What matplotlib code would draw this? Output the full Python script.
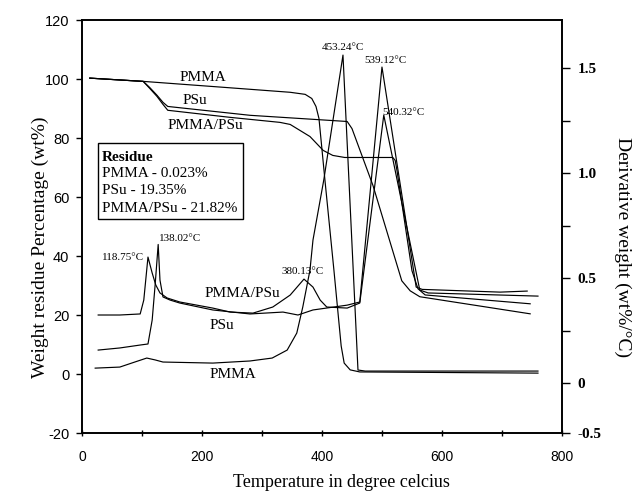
import matplotlib
matplotlib.use("Agg")
import matplotlib.pyplot as plt
from matplotlib.patches import Rectangle
from matplotlib.ticker import MultipleLocator, FixedLocator, FixedFormatter

plt.rcParams["axes.unicode_minus"] = False

# ---------------- data ----------------
# TG curves (left axis, weight residue %)
pmma_tg_T = [13, 102, 235, 347, 372, 383, 390, 395, 405, 420, 432, 437, 447, 463, 760]
pmma_tg_W = [100.3, 99.2, 97.2, 95.5, 94.8, 93.4, 90.7, 86.6, 65.6, 35.0, 9.5, 3.7, 1.4, 0.7, 0.3]

psu_tg_T = [13, 102, 113, 125, 135, 143, 280, 442, 450, 485, 533, 547, 563, 747]
psu_tg_W = [100.3, 99.2, 97.1, 94.5, 92.1, 90.7, 87.7, 85.6, 83.2, 63.9, 31.6, 28.2, 26.2, 20.4]

blend_tg_T = [13, 102, 113, 125, 135, 143, 247, 330, 347, 380, 402, 418, 438, 518, 522,
              525, 550, 560, 572, 747]
blend_tg_W = [100.3, 99.2, 96.8, 94.1, 91.4, 89.4, 87.0, 85.3, 84.6, 80.5, 75.8, 74.1,
              73.4, 73.4, 72.4, 69.0, 35.0, 28.9, 26.8, 23.8]

# DTG curves (right axis, derivative weight %/°C)
pmma_dtg_T = [22, 63, 88, 108, 122, 135, 218, 280, 317, 342, 358, 368, 380, 385, 403,
              435, 460, 472, 760]
pmma_dtg_D = [0.071, 0.076, 0.100, 0.119, 0.110, 0.100, 0.095, 0.105, 0.119, 0.157,
              0.238, 0.362, 0.538, 0.681, 0.967, 1.562, 0.062, 0.057, 0.057]

psu_dtg_T = [27, 63, 97, 110, 117, 122, 127, 130, 135, 147, 163, 218, 280, 335, 360,
             385, 442, 463, 500, 557, 567, 697, 742]
psu_dtg_D = [0.157, 0.167, 0.181, 0.186, 0.300, 0.470, 0.660, 0.490, 0.410, 0.395,
             0.381, 0.348, 0.329, 0.338, 0.324, 0.348, 0.371, 0.386, 1.505, 0.457,
             0.446, 0.433, 0.438]

blend_dtg_T = [27, 63, 97, 103, 110, 117, 123, 130, 142, 163, 218, 247, 285, 318, 347,
               370, 385, 397, 408, 442, 463, 503, 563, 577, 760]
blend_dtg_D = [0.324, 0.324, 0.329, 0.395, 0.600, 0.524, 0.467, 0.429, 0.405, 0.386,
               0.357, 0.338, 0.333, 0.362, 0.419, 0.495, 0.457, 0.395, 0.362, 0.357,
               0.381, 1.276, 0.443, 0.429, 0.414]

peak_labels = ["453.24\u00b0C", "539.12\u00b0C", "540.32\u00b0C", "380.13\u00b0C",
               "118.75\u00b0C", "138.02\u00b0C"]
peak_T = [435, 505, 535, 368, 68, 163]
peak_D = [1.60, 1.538, 1.29, 0.529, 0.60, 0.69]

curve_labels = ["PMMA", "PSu", "PMMA/PSu", "PMMA/PSu", "PSu", "PMMA"]
curve_label_T = [202, 188, 205, 268, 233, 252]
curve_label_W = [100.6, 92.8, 84.3, 27.2, 16.3, 0.0]

residue_title = "Residue"
residue_lines = ["PMMA - 0.023%", "PSu - 19.35%", "PMMA/PSu - 21.82%"]

x_ticks = [0, 200, 400, 600, 800]
left_ticks = [-20, 0, 20, 40, 60, 80, 100, 120]
right_ticks = [-0.238, 0, 0.5, 1.0, 1.5]
right_tick_labels = ["-0.5", "0", "0.5", "1.0", "1.5"]

# ---------------- figure ----------------
SERIF = "Liberation Serif"
SANS = "Liberation Sans"

fig = plt.figure(figsize=(6.35, 4.93), dpi=100)
ax = fig.add_axes([0.1291, 0.1217, 0.8850 - 0.1291, 0.9594 - 0.1217])
ax2 = ax.twinx()

lw = 0.85
ax.plot(pmma_tg_T, pmma_tg_W, color="black", lw=lw)
ax.plot(psu_tg_T, psu_tg_W, color="black", lw=lw)
ax.plot(blend_tg_T, blend_tg_W, color="black", lw=lw)
ax2.plot(pmma_dtg_T, pmma_dtg_D, color="black", lw=lw)
ax2.plot(psu_dtg_T, psu_dtg_D, color="black", lw=lw)
ax2.plot(blend_dtg_T, blend_dtg_D, color="black", lw=lw)

ax.set_xlim(0, 800)
ax.set_ylim(-20, 120)
ax2.set_ylim(-0.238, 1.729)

# x axis ticks
ax.xaxis.set_major_locator(FixedLocator(x_ticks))
ax.xaxis.set_minor_locator(MultipleLocator(100))
ax.tick_params(axis="x", which="both", direction="inout", length=5, width=1,
               labelsize=10, pad=10)
for t in ax.get_xticklabels():
    t.set_fontfamily(SANS)

# left axis
ax.yaxis.set_major_locator(FixedLocator(left_ticks))
ax.tick_params(axis="y", which="major", direction="out", length=4, width=1,
               labelsize=10.5, pad=5)
for t in ax.get_yticklabels():
    t.set_fontfamily(SANS)

# right axis
ax2.yaxis.set_major_locator(FixedLocator(right_ticks))
ax2.yaxis.set_major_formatter(FixedFormatter(right_tick_labels))
ax2.yaxis.set_minor_locator(FixedLocator([0.25, 0.75, 1.25]))
ax2.tick_params(axis="y", which="both", direction="out", length=6, width=1,
                labelsize=11, pad=5)
for t in ax2.get_yticklabels():
    t.set_fontfamily(SERIF)
    t.set_fontweight("bold")

for a in (ax, ax2):
    for s in a.spines.values():
        s.set_color("black")
        s.set_linewidth(1.2)

ax.set_xlabel("Temperature in degree celcius", fontfamily=SERIF, fontsize=13)
ax.xaxis.set_label_coords(0.54, -0.099)
ax.set_ylabel("Weight residue Percentage (wt%)", fontfamily=SERIF, fontsize=14)
ax.yaxis.set_label_coords(-0.069, 0.45)
ax2.set_ylabel("Derivative weight (wt%/\u00b0C)", fontfamily=SERIF, fontsize=14,
               rotation=-90, va="center")
ax2.yaxis.set_label_coords(1.127, 0.45)

# peak annotations
for lab, tx, ty in zip(peak_labels, peak_T, peak_D):
    ax2.text(tx, ty, lab, fontfamily=SERIF, fontsize=8, ha="center", va="center")

# curve labels
for lab, tx, ty in zip(curve_labels, curve_label_T, curve_label_W):
    ax.text(tx, ty, lab, fontfamily=SERIF, fontsize=11, ha="center", va="center")

# residue box
ax.add_patch(Rectangle((26.7, 52.7), 268.3 - 26.7, 78.2 - 52.7, facecolor="white",
                       edgecolor="black", lw=1.0, zorder=5))
ax.text(33, 73.4, residue_title, fontfamily=SERIF, fontsize=11, fontweight="bold",
        ha="left", va="center", zorder=6)
for lab, yy in zip(residue_lines, [68.0, 62.2, 56.1]):
    ax.text(33, yy, lab, fontfamily=SERIF, fontsize=11, ha="left", va="center", zorder=6)

fig.savefig("out.png", dpi=100)
